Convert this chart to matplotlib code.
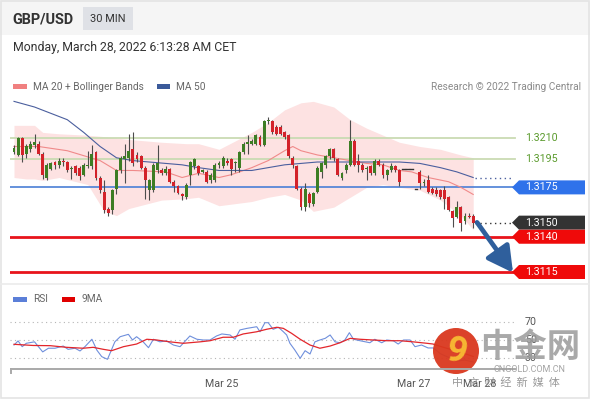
import matplotlib
matplotlib.use("Agg")
import matplotlib.pyplot as plt
import matplotlib.transforms as mtransforms
from matplotlib.patches import Polygon, Rectangle, Circle

plt.rcParams['font.family'] = ['Roboto', 'Noto Sans CJK SC', 'DejaVu Sans']

# --- 30 min GBP/USD candles ---
opens = [1.3200, 1.3198, 1.3210, 1.3199, 1.3202, 1.3205, 1.3206, 1.3199, 1.3182, 1.3188,
         1.3193, 1.3191, 1.3194, 1.3193, 1.3188, 1.3190, 1.3189, 1.3184, 1.3190, 1.3190,
         1.3200, 1.3182, 1.3172, 1.3160, 1.3159, 1.3174, 1.3187, 1.3195, 1.3196, 1.3202,
         1.3198, 1.3197, 1.3189, 1.3173, 1.3173, 1.3187, 1.3187, 1.3185, 1.3188, 1.3179,
         1.3176, 1.3170, 1.3168, 1.3184, 1.3190, 1.3190, 1.3186, 1.3186, 1.3180, 1.3180,
         1.3191, 1.3190, 1.3194, 1.3195, 1.3192, 1.3189, 1.3200, 1.3206, 1.3206, 1.3206,
         1.3211, 1.3205, 1.3222, 1.3222, 1.3218, 1.3218, 1.3214, 1.3212, 1.3196, 1.3190,
         1.3174, 1.3161, 1.3170, 1.3163, 1.3172, 1.3186, 1.3191, 1.3197, 1.3202, 1.3195,
         1.3182, 1.3187, 1.3191, 1.3208, 1.3194, 1.3191, 1.3188, 1.3190, 1.3185, 1.3194,
         1.3191, 1.3184, 1.3187, 1.3190, 1.3187, 1.3188, 1.3188, 1.3188, 1.3174, 1.3186,
         1.3178, 1.3180, 1.3174, 1.3173, 1.3173, 1.3173, 1.3168, 1.3158, 1.3154, 1.3161,
         1.3151, 1.3155, 1.3155]
highs = [1.3205, 1.3211, 1.3211, 1.3206, 1.3208, 1.3213, 1.3208, 1.3200, 1.3192, 1.3193,
         1.3194, 1.3196, 1.3196, 1.3194, 1.3190, 1.3191, 1.3190, 1.3192, 1.3201, 1.3205,
         1.3201, 1.3183, 1.3180, 1.3161, 1.3174, 1.3188, 1.3197, 1.3206, 1.3213, 1.3214,
         1.3200, 1.3198, 1.3190, 1.3181, 1.3192, 1.3205, 1.3189, 1.3190, 1.3189, 1.3180,
         1.3177, 1.3171, 1.3178, 1.3194, 1.3196, 1.3191, 1.3188, 1.3187, 1.3185, 1.3192,
         1.3194, 1.3197, 1.3196, 1.3196, 1.3194, 1.3201, 1.3207, 1.3212, 1.3209, 1.3213,
         1.3212, 1.3223, 1.3225, 1.3223, 1.3219, 1.3219, 1.3215, 1.3213, 1.3197, 1.3191,
         1.3175, 1.3178, 1.3172, 1.3172, 1.3190, 1.3193, 1.3198, 1.3203, 1.3203, 1.3196,
         1.3186, 1.3192, 1.3223, 1.3209, 1.3199, 1.3192, 1.3190, 1.3191, 1.3195, 1.3195,
         1.3192, 1.3188, 1.3192, 1.3191, 1.3188, 1.3188, 1.3188, 1.3188, 1.3174, 1.3187,
         1.3181, 1.3184, 1.3175, 1.3175, 1.3174, 1.3176, 1.3169, 1.3159, 1.3165, 1.3162,
         1.3157, 1.3157, 1.3156]
lows = [1.3199, 1.3197, 1.3193, 1.3196, 1.3200, 1.3203, 1.3198, 1.3181, 1.3180, 1.3187,
        1.3188, 1.3189, 1.3190, 1.3186, 1.3181, 1.3184, 1.3180, 1.3183, 1.3189, 1.3188,
        1.3180, 1.3171, 1.3157, 1.3155, 1.3156, 1.3170, 1.3185, 1.3178, 1.3194, 1.3190,
        1.3193, 1.3188, 1.3167, 1.3166, 1.3172, 1.3185, 1.3184, 1.3184, 1.3178, 1.3172,
        1.3170, 1.3166, 1.3167, 1.3177, 1.3188, 1.3184, 1.3185, 1.3178, 1.3178, 1.3179,
        1.3189, 1.3189, 1.3191, 1.3184, 1.3186, 1.3186, 1.3199, 1.3199, 1.3205, 1.3205,
        1.3204, 1.3204, 1.3220, 1.3213, 1.3212, 1.3212, 1.3209, 1.3196, 1.3189, 1.3173,
        1.3159, 1.3158, 1.3161, 1.3162, 1.3171, 1.3182, 1.3189, 1.3195, 1.3194, 1.3183,
        1.3180, 1.3185, 1.3190, 1.3190, 1.3186, 1.3186, 1.3180, 1.3184, 1.3184, 1.3190,
        1.3182, 1.3180, 1.3186, 1.3186, 1.3176, 1.3188, 1.3188, 1.3188, 1.3174, 1.3174,
        1.3176, 1.3171, 1.3170, 1.3169, 1.3167, 1.3160, 1.3158, 1.3147, 1.3153, 1.3144,
        1.3149, 1.3153, 1.3146]
closes = [1.3203, 1.3210, 1.3198, 1.3204, 1.3206, 1.3207, 1.3199, 1.3184, 1.3191, 1.3192,
          1.3191, 1.3194, 1.3193, 1.3187, 1.3189, 1.3185, 1.3183, 1.3191, 1.3191, 1.3199,
          1.3182, 1.3173, 1.3159, 1.3157, 1.3173, 1.3187, 1.3196, 1.3197, 1.3201, 1.3192,
          1.3195, 1.3189, 1.3180, 1.3180, 1.3191, 1.3192, 1.3185, 1.3188, 1.3179, 1.3176,
          1.3171, 1.3169, 1.3177, 1.3193, 1.3195, 1.3185, 1.3187, 1.3179, 1.3184, 1.3191,
          1.3192, 1.3196, 1.3192, 1.3188, 1.3193, 1.3200, 1.3206, 1.3207, 1.3208, 1.3212,
          1.3205, 1.3222, 1.3223, 1.3214, 1.3213, 1.3213, 1.3211, 1.3197, 1.3191, 1.3174,
          1.3161, 1.3174, 1.3164, 1.3171, 1.3189, 1.3192, 1.3197, 1.3202, 1.3196, 1.3184,
          1.3185, 1.3191, 1.3208, 1.3191, 1.3191, 1.3187, 1.3189, 1.3185, 1.3194, 1.3191,
          1.3184, 1.3187, 1.3190, 1.3187, 1.3179, 1.3188, 1.3188, 1.3188, 1.3174, 1.3178,
          1.3179, 1.3172, 1.3171, 1.3170, 1.3168, 1.3167, 1.3159, 1.3153, 1.3161, 1.3150,
          1.3155, 1.3154, 1.3150]

# indicator readings (x = candle index)
band_idx = [0, 3, 5, 7, 11, 18, 22, 25, 28, 36, 42, 45, 50, 58, 62, 66, 70, 73,
            78, 82, 86, 90, 94, 99, 104, 109, 112]
band_upper = [1.3219, 1.3219, 1.3219, 1.3214, 1.3213, 1.3212, 1.3211, 1.3210, 1.3209,
              1.3207, 1.3206, 1.3206, 1.3202, 1.3214, 1.3221, 1.3230, 1.3235, 1.3236,
              1.3232, 1.3223, 1.3217, 1.3212, 1.3207, 1.3204, 1.3202, 1.3198, 1.3196]
band_lower = [1.3182, 1.3181, 1.3181, 1.3180, 1.3182, 1.3177, 1.3158, 1.3155, 1.3160,
              1.3166, 1.3167, 1.3168, 1.3162, 1.3165, 1.3168, 1.3170, 1.3166, 1.3158,
              1.3161, 1.3168, 1.3175, 1.3177, 1.3175, 1.3173, 1.3166, 1.3155, 1.3145]
ma20_idx = [0, 6, 13, 21, 25, 29, 37, 41, 45, 50, 53, 58, 62, 66, 68, 70, 74, 78,
            82, 86, 90, 94, 97, 101, 106, 109, 112]
ma20 = [1.3204, 1.3204, 1.3201, 1.3194, 1.3187, 1.3187, 1.3186, 1.3182, 1.3185, 1.3182,
        1.3184, 1.3189, 1.3194, 1.3201, 1.3204, 1.3201, 1.3198, 1.3196, 1.3194, 1.3192,
        1.3191, 1.3187, 1.3186, 1.3182, 1.3179, 1.3175, 1.3170]
ma50_idx = [0, 5, 13, 17, 21, 25, 29, 33, 37, 41, 45, 50, 53, 58, 62, 66, 70, 74,
            86, 94, 99, 104, 108, 112]
ma50 = [1.3236, 1.3232, 1.3223, 1.3214, 1.3204, 1.3196, 1.3194, 1.3193, 1.3192, 1.3191,
        1.3189, 1.3187, 1.3187, 1.3187, 1.3189, 1.3191, 1.3192, 1.3193, 1.3193, 1.3193,
        1.3192, 1.3189, 1.3186, 1.3182]

rsi_idx = [0, 1, 2, 3, 5, 7, 8.4, 10, 12, 13.2, 14.9, 16.1, 17.3, 19, 20.2, 21.4, 22.8,
           24.6, 25.9, 27.9, 28.9, 29.9, 31.5, 32.8, 34, 35.6, 37.2, 38.9, 40.5, 42.9,
           44.6, 46.2, 47.8, 49.4, 50.7, 52.7, 53.9, 55.1, 56.8, 59.2, 60, 61.2, 62,
           63.2, 64.5, 65.7, 66.5, 67.3, 68.5, 69.8, 71, 72.2, 73.4, 74.6, 75.9, 77.1,
           78.3, 79.5, 80.7, 81.8, 82.8, 84.4, 86.8, 88, 89.7, 90.9, 92.5, 93.7, 95,
           96.6, 97.8, 99.4, 101, 102.3, 104, 106, 108, 110, 112]
rsi = [44.5, 49, 42.7, 46.4, 48, 37, 41, 41, 43.4, 39.8, 41, 38, 42.7, 50.8, 39, 31.8,
       28.9, 48, 53.6, 56.2, 50, 53.6, 48, 41.6, 50.8, 48, 49, 44.5, 42.7, 54.4, 50.8,
       50, 50, 54.4, 56.6, 55.5, 50.8, 61, 62.7, 64.5, 59, 68.9, 68.9, 61.7, 63.9, 59,
       55.5, 46.4, 39, 30, 38.3, 34.7, 48, 50, 51.8, 55.5, 48, 47, 50, 58, 50.8, 49.2,
       47, 50.8, 47, 50, 49.2, 45.6, 50, 50, 42.7, 44.5, 41.3, 41.3, 35, 31, 27, 28, 26]
ma9_idx = [0, 4.7, 8.8, 12.8, 16.9, 19.3, 21.8, 23.8, 26.7, 29.9, 32.4, 34.8, 38, 41.3,
           45.4, 47.8, 51, 53.5, 55.9, 59.2, 61.6, 64.1, 65.7, 67.7, 69.8, 72.2, 74.6,
           77.1, 79.5, 82, 84.4, 87.6, 91, 94.1, 97.3, 100.7, 102.2, 104, 107, 110, 112]
ma9 = [45.3, 44, 43.8, 42, 41, 42, 39.8, 38.3, 42.7, 45.6, 50.8, 50, 48, 46.4, 48, 49.2,
       53, 53, 56.6, 59, 61.7, 63.9, 62.7, 57.3, 50.8, 44.5, 41, 43.4, 47, 51.8, 50.8,
       50, 49.2, 49.2, 48, 46.4, 45.6, 43, 39, 35, 32]

levels_green = [1.3210, 1.3195]
level_blue = 1.3175
level_last = 1.3150
levels_red = [1.3140, 1.3115]
ma50_last = ma50[-1]

tick_idx = [50.7, 97.6, 113.7]
tick_labels = ["Mar 25", "Mar 27", "Mar 28"]

# --- layout helpers (pixels, origin top-left) ---
W, H = 590, 400
X0, STEP = 14, 4.1          # pixel x of candle 0 and candle spacing


def rect(x0, y0, x1, y1):
    return [x0 / W, 1 - y1 / H, (x1 - x0) / W, (y1 - y0) / H]


def fx(px):  # pixel x -> axes fraction of main/rsi axes
    return (px - 10) / 576


fig = plt.figure(figsize=(W / 100, H / 100), dpi=100)
ax = fig.add_axes(rect(10, 97, 586, 283))
rax = fig.add_axes(rect(10, 305, 586, 369))
deco = fig.add_axes([0, 0, 1, 1], zorder=10)
deco.set_xlim(0, W)
deco.set_ylim(H, 0)
deco.axis('off')

xlim = ((10 - X0) / STEP, (586 - X0) / STEP)

# --- main price panel ---
ax.set_xlim(*xlim)
ax.set_ylim(1.31072, 1.32391)
ax.axis('off')

ax.fill_between(band_idx, band_lower, band_upper, color='#fde2e2', lw=0, zorder=0)
ax.plot(ma20_idx, ma20, color='#f08a8a', lw=0.8, zorder=2)
ax.plot(ma50_idx, ma50, color='#4b5f9e', lw=0.8, zorder=2)

for lv in levels_green:
    ax.axhline(lv, xmin=0, xmax=fx(515), color='#cadbb3', lw=1.3, zorder=1)
ax.axhline(level_blue, xmin=0, xmax=fx(515), color='#4a7fd6', lw=1.2, zorder=1)
for lv in levels_red:
    ax.axhline(lv, xmin=0, xmax=fx(515), color='#e8141b', lw=2.0, zorder=4)

idx = list(range(len(opens)))
flat = [i for i in idx if highs[i] == lows[i]]
real = [i for i in idx if highs[i] != lows[i]]
ax.vlines(real, [lows[i] for i in real], [highs[i] for i in real],
          color='#4d4d4d', lw=0.8, zorder=3)
ax.bar(real, [max(abs(closes[i] - opens[i]), 0.00003) for i in real],
       bottom=[min(opens[i], closes[i]) for i in real], width=0.72,
       color=['#3d7d24' if closes[i] >= opens[i] else '#d3222a' for i in real],
       lw=0, zorder=3.5)
for i in flat:
    ax.plot([i - 0.3, i + 0.3], [opens[i], opens[i]], color='#333333', lw=1.0, zorder=3)

tr = mtransforms.blended_transform_factory(ax.transAxes, ax.transData)
ax.plot([fx(475), fx(513)], [level_last, level_last], transform=tr,
        color='#333333', lw=1, ls=(0, (1, 2.5)))
ax.plot([fx(475), fx(513)], [ma50_last, ma50_last], transform=tr,
        color='#4b5f9e', lw=1, ls=(0, (1, 2.5)))

half = 7 * (1.32391 - 1.31072) / 186


def tag(level, face, txtcol='white', box=True):
    if box:
        pts = [(fx(512), level), (fx(519), level + half), (fx(585), level + half),
               (fx(585), level - half), (fx(519), level - half)]
        ax.add_patch(Polygon(pts, closed=True, transform=tr, facecolor=face,
                             edgecolor='none', clip_on=False, zorder=5))
    ax.text(fx(525), level, f"{level:.4f}", transform=tr, color=txtcol,
            fontsize=7.7, va='center', ha='left', zorder=6, clip_on=False)


for lv in levels_green:
    tag(lv, None, '#5a9a2c', box=False)
tag(level_blue, '#2f72ea')
tag(level_last, '#333333')
for lv in levels_red:
    tag(lv, '#ef0a0a')

ax.annotate("", xy=((513 - X0) / STEP, levels_red[1] - 0.00005),
            xytext=((477 - X0) / STEP, level_last + 0.00002),
            arrowprops=dict(arrowstyle='-|>,head_width=0.6,head_length=1.1',
                            color='#2f5f9c', lw=3.4, mutation_scale=14,
                            shrinkA=0, shrinkB=0), zorder=6)

# --- RSI panel ---
rax.set_xlim(*xlim)
rax.set_ylim(18.3, 88.25)
rax.patch.set_visible(False)
for s in rax.spines.values():
    s.set_visible(False)
rax.set_yticks([])
rtr = mtransforms.blended_transform_factory(rax.transAxes, rax.transData)
for lv in (30, 50, 70):
    rax.axhline(lv, xmin=0, xmax=fx(515), color='#b5b5b5', lw=0.8, ls=(0, (1, 3)))
    rax.text(fx(525), lv, str(lv), transform=rtr, fontsize=7.7, color='#555555',
             va='center')
rax.plot(rsi_idx, rsi, color='#6f8fdc', lw=0.8)
rax.plot(ma9_idx, ma9, color='#e3262b', lw=0.9)
rax.set_xticks(tick_idx)
rax.set_xticklabels(tick_labels, fontsize=7.7, color='#555555')
rax.tick_params(axis='x', length=0, pad=7)

# --- decorations: header, legends, frame ---
deco.add_patch(Rectangle((0, 0), W, 35, facecolor='#f5f5f5', edgecolor='none'))
deco.add_patch(Rectangle((83, 7), 50, 23, facecolor='#dfe1e6', edgecolor='none'))
deco.text(12, 19, "GBP/USD", fontsize=10.4, fontweight='bold', color='#333333',
          va='center')
deco.text(108, 19, "30 MIN", fontsize=7.9, color='#333333', va='center', ha='center')
deco.text(13, 48, "Monday, March 28, 2022 6:13:28 AM CET", fontsize=8.8,
          color='#333333', va='center')

deco.add_patch(Rectangle((13, 84), 14, 5, facecolor='#f08080', edgecolor='none'))
deco.text(33, 86.5, "MA 20 + Bollinger Bands", fontsize=7.3, color='#666666',
          va='center')
deco.add_patch(Rectangle((157, 84), 13, 5, facecolor='#3b5a9a', edgecolor='none'))
deco.text(176, 86.5, "MA 50", fontsize=7.3, color='#666666', va='center')
deco.text(581, 86.5, "Research \u00a9 2022 Trading Central", fontsize=7.3,
          color='#8a8a8a', va='center', ha='right')

deco.add_patch(Rectangle((13, 297), 14, 5, facecolor='#5b7fd8', edgecolor='none'))
deco.text(33, 299.5, "RSI", fontsize=7.3, color='#666666', va='center')
deco.add_patch(Rectangle((62, 297), 13, 5, facecolor='#e00000', edgecolor='none'))
deco.text(82, 299.5, "9MA", fontsize=7.3, color='#666666', va='center')

deco.plot([11, 515], [369, 369], color='#a9a9a9', lw=1.4)
deco.plot([11, 11], [369, 373], color='#a9a9a9', lw=1.4)
deco.plot([0, W], [284, 284], color='#ebebeb', lw=1.2)
deco.add_patch(Rectangle((0.5, 0.5), W - 1.5, H - 3, facecolor='none',
                         edgecolor='#e4e4e4', lw=1.2))

# --- watermark ---
deco.add_patch(Circle((456, 351), 23, facecolor='#d9381e', edgecolor='none', alpha=0.95))
deco.text(456, 352, "9", fontsize=26, fontweight='bold', color='#f7b733',
          ha='center', va='center', rotation=-15)
deco.text(530, 347, "中金网", fontsize=24, fontweight='bold', color='#9a9a9a',
          ha='center', va='center', alpha=0.85, family=['Noto Sans CJK SC'])
deco.text(530, 369, "CNGOLD.COM.CN", fontsize=6.5, color='#9a9a9a',
          ha='center', va='center', alpha=0.9)
deco.text(506, 382, "中  文  财  经  新  媒  体", fontsize=8, color='#8f8f8f',
          ha='center', va='center', alpha=0.9, family=['Noto Sans CJK SC'])

fig.savefig("out.png", dpi=100)
